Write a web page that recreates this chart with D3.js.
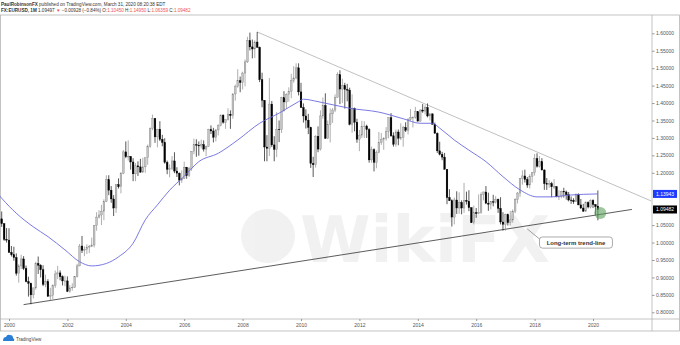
<!DOCTYPE html>
<html>
<head>
<meta charset="utf-8">
<script src="https://cdn.jsdelivr.net/npm/d3@7"></script>
<style>
  body { margin: 0; background: #fff; }
  svg { display: block; font-family: "Liberation Sans", Arial, sans-serif; }
</style>
</head>
<body>
<svg id="chart" width="680" height="345"></svg>
<script>
// monthly EURUSD candles: month, open, high, low, close
var candles = [
  ["1999-10",1.0680,1.0890,1.0450,1.0540],["1999-11",1.0540,1.0560,1.0050,1.0090],["1999-12",1.0090,1.0415,1.0000,1.0070],
  ["2000-01",1.0070,1.0410,0.9700,0.9720],["2000-02",0.9720,0.9900,0.9600,0.9650],["2000-03",0.9650,0.9880,0.9480,0.9570],
  ["2000-04",0.9570,0.9690,0.9050,0.9120],["2000-05",0.9120,0.9380,0.8850,0.9330],["2000-06",0.9330,0.9650,0.9240,0.9530],
  ["2000-07",0.9530,0.9610,0.9210,0.9260],["2000-08",0.9260,0.9340,0.8860,0.8880],["2000-09",0.8880,0.9020,0.8450,0.8830],
  ["2000-10",0.8830,0.8850,0.8230,0.8500],["2000-11",0.8500,0.8700,0.8400,0.8700],["2000-12",0.8700,0.9450,0.8650,0.9400],
  ["2001-01",0.9400,0.9600,0.9100,0.9350],["2001-02",0.9350,0.9380,0.9000,0.9220],["2001-03",0.9220,0.9350,0.8750,0.8800],
  ["2001-04",0.8800,0.9080,0.8720,0.8880],["2001-05",0.8880,0.8950,0.8440,0.8460],["2001-06",0.8460,0.8700,0.8350,0.8490],
  ["2001-07",0.8490,0.8800,0.8380,0.8760],["2001-08",0.8760,0.9200,0.8700,0.9100],["2001-09",0.9100,0.9330,0.8950,0.9130],
  ["2001-10",0.9130,0.9200,0.8920,0.9020],["2001-11",0.9020,0.9060,0.8770,0.8900],["2001-12",0.8900,0.9050,0.8750,0.8900],
  ["2002-01",0.8900,0.9030,0.8580,0.8600],["2002-02",0.8600,0.8780,0.8560,0.8700],["2002-03",0.8700,0.8830,0.8620,0.8720],
  ["2002-04",0.8720,0.9040,0.8700,0.9020],["2002-05",0.9020,0.9390,0.9000,0.9330],["2002-06",0.9330,0.9960,0.9320,0.9900],
  ["2002-07",0.9900,1.0190,0.9700,0.9780],["2002-08",0.9780,0.9890,0.9610,0.9800],["2002-09",0.9800,0.9950,0.9670,0.9870],
  ["2002-10",0.9870,0.9930,0.9700,0.9890],["2002-11",0.9890,1.0140,0.9870,0.9930],["2002-12",0.9930,1.0500,0.9860,1.0490],
  ["2003-01",1.0490,1.0870,1.0340,1.0730],["2003-02",1.0730,1.0930,1.0690,1.0790],["2003-03",1.0790,1.1080,1.0500,1.0900],
  ["2003-04",1.0900,1.1240,1.0640,1.1170],["2003-05",1.1170,1.1930,1.1160,1.1800],["2003-06",1.1800,1.1930,1.1360,1.1500],
  ["2003-07",1.1500,1.1620,1.1140,1.1250],["2003-08",1.1250,1.1360,1.0760,1.0990],["2003-09",1.0990,1.1660,1.0850,1.1660],
  ["2003-10",1.1660,1.1840,1.1550,1.1600],["2003-11",1.1600,1.2020,1.1410,1.1990],["2003-12",1.1990,1.2650,1.1960,1.2600],
  ["2004-01",1.2600,1.2900,1.2420,1.2460],["2004-02",1.2460,1.2930,1.2350,1.2470],["2004-03",1.2470,1.2480,1.2090,1.2310],
  ["2004-04",1.2310,1.2420,1.1760,1.1970],["2004-05",1.1970,1.2280,1.1760,1.2200],["2004-06",1.2200,1.2330,1.1910,1.2170],
  ["2004-07",1.2170,1.2400,1.2000,1.2020],["2004-08",1.2020,1.2430,1.2000,1.2170],["2004-09",1.2170,1.2430,1.2000,1.2430],
  ["2004-10",1.2430,1.2810,1.2230,1.2760],["2004-11",1.2760,1.3300,1.2720,1.3270],["2004-12",1.3270,1.3670,1.3220,1.3560],
  ["2005-01",1.3560,1.3570,1.2860,1.3030],["2005-02",1.3030,1.3260,1.2730,1.3250],["2005-03",1.3250,1.3480,1.2910,1.2960],
  ["2005-04",1.2960,1.3090,1.2760,1.2870],["2005-05",1.2870,1.2990,1.2260,1.2300],["2005-06",1.2300,1.2350,1.1960,1.2100],
  ["2005-07",1.2100,1.2240,1.1870,1.2120],["2005-08",1.2120,1.2480,1.2080,1.2340],["2005-09",1.2340,1.2590,1.1990,1.2050],
  ["2005-10",1.2050,1.2160,1.1880,1.1990],["2005-11",1.1990,1.2010,1.1640,1.1790],["2005-12",1.1790,1.2070,1.1710,1.1840],
  ["2006-01",1.1840,1.2320,1.1820,1.2160],["2006-02",1.2160,1.2170,1.1830,1.1920],["2006-03",1.1920,1.2170,1.1880,1.2120],
  ["2006-04",1.2120,1.2620,1.2060,1.2620],["2006-05",1.2620,1.2980,1.2530,1.2810],["2006-06",1.2810,1.2960,1.2460,1.2790],
  ["2006-07",1.2790,1.2900,1.2490,1.2770],["2006-08",1.2770,1.2950,1.2700,1.2810],["2006-09",1.2810,1.2930,1.2610,1.2680],
  ["2006-10",1.2680,1.2780,1.2480,1.2760],["2006-11",1.2760,1.3260,1.2750,1.3240],["2006-12",1.3240,1.3360,1.3110,1.3200],
  ["2007-01",1.3200,1.3290,1.2870,1.3020],["2007-02",1.3020,1.3250,1.2900,1.3230],["2007-03",1.3230,1.3390,1.3070,1.3360],
  ["2007-04",1.3360,1.3680,1.3330,1.3650],["2007-05",1.3650,1.3680,1.3410,1.3450],["2007-06",1.3450,1.3530,1.3260,1.3530],
  ["2007-07",1.3530,1.3850,1.3500,1.3680],["2007-08",1.3680,1.3790,1.3260,1.3640],["2007-09",1.3640,1.4280,1.3550,1.4260],
  ["2007-10",1.4260,1.4530,1.4070,1.4480],["2007-11",1.4480,1.4970,1.4440,1.4640],["2007-12",1.4640,1.4760,1.4310,1.4590],
  ["2008-01",1.4590,1.4900,1.4390,1.4860],["2008-02",1.4860,1.5250,1.4480,1.5180],["2008-03",1.5180,1.5900,1.5150,1.5790],
  ["2008-04",1.5790,1.6020,1.5510,1.5610],["2008-05",1.5610,1.5820,1.5280,1.5550],["2008-06",1.5550,1.5800,1.5290,1.5750],
  ["2008-07",1.5750,1.6040,1.5580,1.5600],["2008-08",1.5600,1.5620,1.4600,1.4670],["2008-09",1.4670,1.4870,1.3880,1.4080],
  ["2008-10",1.4080,1.4080,1.2330,1.2740],["2008-11",1.2740,1.3080,1.2330,1.2700],["2008-12",1.2700,1.4720,1.2480,1.3970],
  ["2009-01",1.3970,1.4060,1.2740,1.2800],["2009-02",1.2800,1.3050,1.2330,1.2670],["2009-03",1.2670,1.3740,1.2450,1.3250],
  ["2009-04",1.3250,1.3500,1.2880,1.3240],["2009-05",1.3240,1.4180,1.3140,1.4150],["2009-06",1.4150,1.4340,1.3760,1.4030],
  ["2009-07",1.4030,1.4280,1.3840,1.4250],["2009-08",1.4250,1.4450,1.4040,1.4340],["2009-09",1.4340,1.4840,1.4140,1.4640],
  ["2009-10",1.4640,1.5060,1.4580,1.4720],["2009-11",1.4720,1.5140,1.4680,1.5010],["2009-12",1.5010,1.5140,1.4220,1.4320],
  ["2010-01",1.4320,1.4580,1.3860,1.3870],["2010-02",1.3870,1.3990,1.3440,1.3630],["2010-03",1.3630,1.3820,1.3270,1.3510],
  ["2010-04",1.3510,1.3690,1.3110,1.3300],["2010-05",1.3300,1.3320,1.2140,1.2270],["2010-06",1.2270,1.2460,1.1880,1.2230],
  ["2010-07",1.2230,1.3080,1.2150,1.3050],["2010-08",1.3050,1.3330,1.2590,1.2680],["2010-09",1.2680,1.3790,1.2640,1.3630],
  ["2010-10",1.3630,1.4160,1.3550,1.3930],["2010-11",1.3930,1.4280,1.2970,1.2990],["2010-12",1.2990,1.3500,1.2970,1.3380],
  ["2011-01",1.3380,1.3850,1.2870,1.3690],["2011-02",1.3690,1.3860,1.3430,1.3800],["2011-03",1.3800,1.4250,1.3740,1.4160],
  ["2011-04",1.4160,1.4880,1.4160,1.4810],["2011-05",1.4810,1.4940,1.3970,1.4400],["2011-06",1.4400,1.4700,1.4000,1.4500],
  ["2011-07",1.4500,1.4580,1.3840,1.4390],["2011-08",1.4390,1.4550,1.4050,1.4370],["2011-09",1.4370,1.4440,1.3360,1.3390],
  ["2011-10",1.3390,1.4250,1.3150,1.3850],["2011-11",1.3850,1.3870,1.3190,1.3450],["2011-12",1.3450,1.3550,1.2860,1.2960],
  ["2012-01",1.2960,1.3230,1.2620,1.3080],["2012-02",1.3080,1.3490,1.3000,1.3330],["2012-03",1.3330,1.3480,1.3000,1.3340],
  ["2012-04",1.3340,1.3380,1.3000,1.3240],["2012-05",1.3240,1.3280,1.2290,1.2370],["2012-06",1.2370,1.2750,1.2290,1.2660],
  ["2012-07",1.2660,1.2700,1.2040,1.2300],["2012-08",1.2300,1.2640,1.2130,1.2580],["2012-09",1.2580,1.3170,1.2560,1.2860],
  ["2012-10",1.2860,1.3140,1.2800,1.2960],["2012-11",1.2960,1.3020,1.2660,1.2990],["2012-12",1.2990,1.3310,1.2920,1.3190],
  ["2013-01",1.3190,1.3590,1.2990,1.3580],["2013-02",1.3580,1.3710,1.3030,1.3060],["2013-03",1.3060,1.3160,1.2750,1.2820],
  ["2013-04",1.2820,1.3240,1.2750,1.3170],["2013-05",1.3170,1.3240,1.2790,1.2990],["2013-06",1.2990,1.3420,1.2940,1.3010],
  ["2013-07",1.3010,1.3350,1.2750,1.3300],["2013-08",1.3300,1.3450,1.3170,1.3220],["2013-09",1.3220,1.3570,1.3100,1.3520],
  ["2013-10",1.3520,1.3830,1.3490,1.3590],["2013-11",1.3590,1.3620,1.3300,1.3590],["2013-12",1.3590,1.3890,1.3550,1.3750],
  ["2014-01",1.3750,1.3770,1.3480,1.3480],["2014-02",1.3480,1.3820,1.3470,1.3800],["2014-03",1.3800,1.3970,1.3720,1.3770],
  ["2014-04",1.3770,1.3940,1.3670,1.3870],["2014-05",1.3870,1.3990,1.3590,1.3630],["2014-06",1.3630,1.3700,1.3500,1.3690],
  ["2014-07",1.3690,1.3700,1.3390,1.3390],["2014-08",1.3390,1.3440,1.3130,1.3130],["2014-09",1.3130,1.3160,1.2570,1.2630],
  ["2014-10",1.2630,1.2890,1.2500,1.2530],["2014-11",1.2530,1.2600,1.2360,1.2450],["2014-12",1.2450,1.2570,1.2100,1.2100],
  ["2015-01",1.2100,1.2100,1.1100,1.1290],["2015-02",1.1290,1.1530,1.1190,1.1200],["2015-03",1.1200,1.1240,1.0460,1.0730],
  ["2015-04",1.0730,1.1290,1.0520,1.1220],["2015-05",1.1220,1.1470,1.0820,1.0990],["2015-06",1.0990,1.1440,1.0820,1.1150],
  ["2015-07",1.1150,1.1210,1.0810,1.0990],["2015-08",1.0990,1.1710,1.0850,1.1210],["2015-09",1.1210,1.1460,1.1090,1.1180],
  ["2015-10",1.1180,1.1500,1.0900,1.1000],["2015-11",1.1000,1.1010,1.0560,1.0570],["2015-12",1.0570,1.1060,1.0520,1.0860],
  ["2016-01",1.0860,1.0990,1.0710,1.0830],["2016-02",1.0830,1.1380,1.0810,1.0870],["2016-03",1.0870,1.1440,1.0820,1.1380],
  ["2016-04",1.1380,1.1460,1.1210,1.1450],["2016-05",1.1450,1.1620,1.1100,1.1130],["2016-06",1.1130,1.1430,1.0910,1.1100],
  ["2016-07",1.1100,1.1190,1.0950,1.1170],["2016-08",1.1170,1.1370,1.1040,1.1160],["2016-09",1.1160,1.1330,1.1120,1.1240],
  ["2016-10",1.1240,1.1260,1.0850,1.0980],["2016-11",1.0980,1.1300,1.0520,1.0590],["2016-12",1.0590,1.0870,1.0340,1.0520],
  ["2017-01",1.0520,1.0830,1.0340,1.0800],["2017-02",1.0800,1.0830,1.0490,1.0570],["2017-03",1.0570,1.0910,1.0490,1.0650],
  ["2017-04",1.0650,1.0950,1.0570,1.0900],["2017-05",1.0900,1.1270,1.0840,1.1240],["2017-06",1.1240,1.1450,1.1120,1.1420],
  ["2017-07",1.1420,1.1850,1.1310,1.1840],["2017-08",1.1840,1.2070,1.1660,1.1910],["2017-09",1.1910,1.2090,1.1720,1.1810],
  ["2017-10",1.1810,1.1880,1.1570,1.1650],["2017-11",1.1650,1.1960,1.1550,1.1900],["2017-12",1.1900,1.2020,1.1720,1.2000],
  ["2018-01",1.2000,1.2540,1.1920,1.2410],["2018-02",1.2410,1.2560,1.2150,1.2190],["2018-03",1.2190,1.2480,1.2150,1.2320],
  ["2018-04",1.2320,1.2420,1.2070,1.2080],["2018-05",1.2080,1.2100,1.1510,1.1690],["2018-06",1.1690,1.1850,1.1510,1.1680],
  ["2018-07",1.1680,1.1790,1.1570,1.1690],["2018-08",1.1690,1.1740,1.1300,1.1600],["2018-09",1.1600,1.1820,1.1530,1.1600],
  ["2018-10",1.1600,1.1620,1.1300,1.1310],["2018-11",1.1310,1.1500,1.1220,1.1320],["2018-12",1.1320,1.1490,1.1270,1.1470],
  ["2019-01",1.1470,1.1570,1.1290,1.1450],["2019-02",1.1450,1.1490,1.1230,1.1370],["2019-03",1.1370,1.1450,1.1180,1.1220],
  ["2019-04",1.1220,1.1320,1.1110,1.1210],["2019-05",1.1210,1.1270,1.1110,1.1170],["2019-06",1.1170,1.1410,1.1160,1.1370],
  ["2019-07",1.1370,1.1410,1.1070,1.1080],["2019-08",1.1080,1.1250,1.0960,1.0990],["2019-09",1.0990,1.1110,1.0880,1.0900],
  ["2019-10",1.0900,1.1180,1.0880,1.1150],["2019-11",1.1150,1.1180,1.0980,1.1020],["2019-12",1.1020,1.1240,1.0980,1.1210],
  ["2020-01",1.1210,1.1240,1.0990,1.1090],["2020-02",1.1090,1.1100,1.0780,1.1030],["2020-03",1.1045,1.1495,1.0636,1.0948]
];

// moving average
var maMonths = ["1999-09","1999-10","2000-04","2000-11","2001-05","2001-12","2002-06","2002-11","2003-05","2003-10","2004-04",
  "2004-09","2005-02","2005-07","2006-01","2006-07","2007-03","2007-11","2008-08","2009-04","2009-12","2010-02","2010-08",
  "2011-09","2012-09","2013-07","2014-02","2014-07","2014-10","2015-04","2015-10","2016-05","2016-12","2017-07","2018-02",
  "2018-08","2019-03","2020-03"];
var maValues = [1.135,1.127,1.084,1.045,1.017,0.979,0.945,0.933,0.940,0.959,0.998,
  1.065,1.108,1.150,1.190,1.232,1.256,1.294,1.342,1.371,1.404,1.411,1.404,
  1.385,1.374,1.355,1.342,1.342,1.328,1.294,1.265,1.232,1.189,1.151,1.131,
  1.131,1.136,1.1394];

var upperTrend = [["2008-07",1.6038],["2022-01",1.119]];
var lowerTrend = [["2000-07",0.822],["2021-05",1.095]];

var yearTicks = [2000,2002,2004,2006,2008,2010,2012,2014,2016,2018,2020];
var priceTicks = [0.80,0.85,0.90,0.95,1.00,1.05,1.20,1.25,1.30,1.35,1.40,1.45,1.50,1.55,1.60];
var maLast = 1.13943;
var lastClose = 1.09482;

function monthIndex(s) {
  var p = s.split("-");
  return (+p[0] - 2000) * 12 + (+p[1] - 1);
}

var svg = d3.select("#chart");
var plotRight = 652, plotTop = 15, plotBottom = 319, frameBottom = 331;

var x = d3.scaleLinear().domain([0, 240]).range([9, 593]);
var y = d3.scaleLinear().domain([0.8, 1.6]).range([312.3, 33.3]);

svg.append("defs").append("clipPath").attr("id", "plot")
  .append("rect").attr("x", 0).attr("y", plotTop).attr("width", plotRight).attr("height", plotBottom - plotTop);

// header
var h1 = svg.append("text").attr("x", 1).attr("y", 6).attr("font-size", 4.6).attr("fill", "#333");
h1.append("tspan").attr("font-weight", "bold").text("PaulRobinsonFX");
h1.append("tspan").text(" published on TradingView.com, March 31, 2020 08:20:38 EDT");

var red = "#ef5350";
var h2 = svg.append("text").attr("x", 1).attr("y", 12).attr("font-size", 4.6).attr("fill", "#333");
h2.append("tspan").attr("font-weight", "bold").text("FX:EURUSD, 1M");
h2.append("tspan").text(" 1.09497 ");
h2.append("tspan").attr("fill", red).text("▼");
h2.append("tspan").text(" −0.00928 (−0.84%) O:");
h2.append("tspan").attr("fill", red).text("1.10450");
h2.append("tspan").text(" H:");
h2.append("tspan").attr("fill", red).text("1.14950");
h2.append("tspan").text(" L:");
h2.append("tspan").attr("fill", red).text("1.06359");
h2.append("tspan").text(" C:");
h2.append("tspan").attr("fill", red).text("1.09482");

// frame
var frame = svg.append("g").attr("stroke", "#b5b5b5").attr("stroke-width", 0.8).attr("fill", "none");
frame.append("rect").attr("x", 0.5).attr("y", plotTop).attr("width", 679).attr("height", frameBottom - plotTop);
frame.append("line").attr("x1", 0).attr("x2", 680).attr("y1", plotBottom).attr("y2", plotBottom);
frame.append("line").attr("x1", plotRight).attr("x2", plotRight).attr("y1", plotTop).attr("y2", frameBottom);

// watermark
var wm = svg.append("g").attr("fill", "#000").attr("opacity", 0.05);
wm.append("circle").attr("cx", 268).attr("cy", 236).attr("r", 27);
wm.append("text").attr("x", 300).attr("y", 262).attr("font-size", 64).attr("font-weight", "bold")
  .attr("font-family", "DejaVu Sans").text("WikiFX");

var plot = svg.append("g").attr("clip-path", "url(#plot)");

// trend lines
var trendLine = d3.line()
  .x(function(d) { return x(monthIndex(d[0])); })
  .y(function(d) { return y(d[1]); });

plot.append("path").datum(upperTrend).attr("d", trendLine)
  .attr("fill", "none").attr("stroke", "#b9b9b9").attr("stroke-width", 0.9);
plot.append("path").datum(lowerTrend).attr("d", trendLine)
  .attr("fill", "none").attr("stroke", "#4a4a4a").attr("stroke-width", 0.9);

// candles
var bars = plot.append("g").selectAll("g").data(candles).enter().append("g");
bars.append("line")
  .attr("x1", function(d) { return x(monthIndex(d[0])); })
  .attr("x2", function(d) { return x(monthIndex(d[0])); })
  .attr("y1", function(d) { return y(d[2]); })
  .attr("y2", function(d) { return y(d[3]); })
  .attr("stroke", function(d) { return d[4] >= d[1] ? "#8c8c8c" : "#111"; })
  .attr("stroke-width", 0.7);
bars.append("rect")
  .attr("x", function(d) { return x(monthIndex(d[0])) - 0.85; })
  .attr("width", 1.7)
  .attr("y", function(d) { return y(Math.max(d[1], d[4])); })
  .attr("height", function(d) { return Math.max(0.6, Math.abs(y(d[1]) - y(d[4]))); })
  .attr("fill", function(d) { return d[4] >= d[1] ? "#c4c4c4" : "#000"; })
  .attr("stroke", function(d) { return d[4] >= d[1] ? "#7d7d7d" : "#000"; })
  .attr("stroke-width", 0.35);

// moving average
var maLine = d3.line()
  .x(function(d, i) { return x(monthIndex(maMonths[i])); })
  .y(function(d) { return y(d); })
  .curve(d3.curveMonotoneX);
plot.append("path").datum(maValues).attr("d", maLine)
  .attr("fill", "none").attr("stroke", "#6a6ae0").attr("stroke-width", 0.9);

// marker on the trend line
plot.append("circle")
  .attr("cx", x(monthIndex("2020-04"))).attr("cy", y(1.085)).attr("r", 6)
  .attr("fill", "#5aa25a").attr("fill-opacity", 0.6);

// callout
var note = svg.append("g");
note.append("line")
  .attr("x1", x(monthIndex("2017-10"))).attr("y1", y(1.039))
  .attr("x2", x(monthIndex("2018-03")) + 1).attr("y2", y(1.008))
  .attr("stroke", "#777").attr("stroke-width", 0.7);
note.append("rect")
  .attr("x", x(monthIndex("2018-03"))).attr("y", y(1.016))
  .attr("width", x(monthIndex("2020-09")) - x(monthIndex("2018-03")))
  .attr("height", y(0.984) - y(1.016))
  .attr("rx", 3).attr("fill", "#fff").attr("stroke", "#888").attr("stroke-width", 0.7);
note.append("text")
  .attr("x", (x(monthIndex("2018-03")) + x(monthIndex("2020-09"))) / 2)
  .attr("y", y(1.0)).attr("dy", "0.35em")
  .attr("text-anchor", "middle").attr("font-size", 6).attr("font-weight", "bold")
  .attr("fill", "#333").text("Long-term trend-line");

// axes
var xAxis = svg.append("g").attr("transform", "translate(0," + plotBottom + ")")
  .call(d3.axisBottom(x)
    .tickValues(yearTicks.map(function(yr) { return (yr - 2000) * 12; }))
    .tickFormat(function(d) { return 2000 + d / 12; })
    .tickSize(2).tickPadding(2));
xAxis.select(".domain").remove();
xAxis.selectAll("line").attr("stroke", "#999");
xAxis.selectAll("text").attr("font-size", 5).attr("fill", "#555").attr("font-family", "Liberation Sans");

var yAxis = svg.append("g").attr("transform", "translate(" + plotRight + ",0)")
  .call(d3.axisRight(y).tickValues(priceTicks).tickFormat(d3.format(".5f")).tickSize(2.5).tickPadding(1.5));
yAxis.select(".domain").remove();
yAxis.selectAll("line").attr("stroke", "#999");
yAxis.selectAll("text").attr("font-size", 5).attr("fill", "#555").attr("font-family", "Liberation Sans");

// price tags
var tags = [[maLast, "#1e3cff"], [lastClose, "#000"]];
tags.forEach(function(t) {
  svg.append("rect").attr("x", plotRight + 1).attr("y", y(t[0]) - 4)
    .attr("width", 24).attr("height", 8).attr("fill", t[1]);
  svg.append("text").attr("x", plotRight + 4).attr("y", y(t[0])).attr("dy", "0.35em")
    .attr("font-size", 5).attr("fill", "#fff").text(t[0].toFixed(5));
});

// footer logo
var logo = svg.append("g");
logo.append("path").attr("d", "M3,341 Q3,337 6,337 Q7,334 10,335 Q13,335 13,338 Q15,339 14,341 Z").attr("fill", "#2a7fd4");
logo.append("text").attr("x", 16).attr("y", 341).attr("font-size", 4.6).attr("fill", "#444").text("TradingView");
</script>
</body>
</html>
